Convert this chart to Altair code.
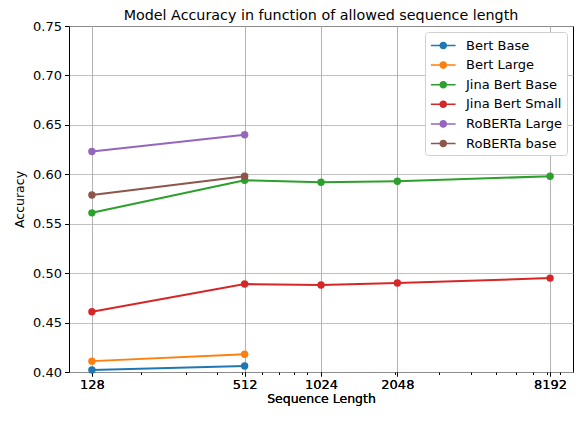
import altair as alt
import pandas as pd

models = ["Bert Base", "Bert Large", "Jina Bert Base", "Jina Bert Small", "RoBERTa Large", "RoBERTa base"]
colors = ["#1f77b4", "#ff7f0e", "#2ca02c", "#d62728", "#9467bd", "#8c564b"]

bert_base_len = [128, 512]
bert_base_acc = [0.402, 0.406]
bert_large_len = [128, 512]
bert_large_acc = [0.411, 0.418]
jina_base_len = [128, 512, 1024, 2048, 8192]
jina_base_acc = [0.561, 0.594, 0.592, 0.593, 0.598]
jina_small_len = [128, 512, 1024, 2048, 8192]
jina_small_acc = [0.461, 0.489, 0.488, 0.490, 0.495]
roberta_large_len = [128, 512]
roberta_large_acc = [0.623, 0.640]
roberta_base_len = [128, 512]
roberta_base_acc = [0.579, 0.598]

x_ticks = [128, 512, 1024, 2048, 8192]
x_minor = [200, 300, 400, 500, 600, 700, 800, 900, 2000, 3000, 4000, 5000, 6000, 7000, 8000, 9000]
y_ticks = [0.40, 0.45, 0.50, 0.55, 0.60, 0.65, 0.70, 0.75]

series = [
    (models[0], bert_base_len, bert_base_acc),
    (models[1], bert_large_len, bert_large_acc),
    (models[2], jina_base_len, jina_base_acc),
    (models[3], jina_small_len, jina_small_acc),
    (models[4], roberta_large_len, roberta_large_acc),
    (models[5], roberta_base_len, roberta_base_acc),
]
rows = []
for name, lens, accs in series:
    for l, a in zip(lens, accs):
        rows.append({"model": name, "length": l, "accuracy": a})
df = pd.DataFrame(rows)

FONT = "DejaVu Sans"
FS = 13
xscale = alt.Scale(type="log", base=2, domain=[2 ** 6.7, 2 ** 13.3], nice=False)
yscale = alt.Scale(domain=[0.40, 0.75], nice=False, zero=False)
cscale = alt.Scale(domain=models, range=colors)

sym = ("M-0.8,-0.08 L1.8,-0.08 L1.8,0.08 L-0.8,0.08 Z "
       "M0.9,0 A0.4,0.4 0 1,1 0.1,0 A0.4,0.4 0 1,1 0.9,0 Z")

xaxis = alt.Axis(values=x_ticks, format="d", title="Sequence Length", grid=True, orient="bottom",
                 gridColor="#b0b0b0", gridWidth=0.8, domain=False, tickColor="black",
                 tickSize=4, labelPadding=2, labelFontSize=FS, titleFontSize=12.5,
                 labelColor="black", titleColor="black", titleFontWeight="normal",
                 titlePadding=1, labelFont=FONT, titleFont=FONT, labelFlush=False)
yaxis = alt.Axis(values=y_ticks, format=".2f", title="Accuracy", grid=True, orient="left",
                 gridColor="#b0b0b0", gridWidth=0.8, domain=False, tickColor="black",
                 tickSize=4.5, labelPadding=3, labelFontSize=FS, titleFontSize=12.5,
                 labelColor="black", titleColor="black", titleFontWeight="normal",
                 titlePadding=6, labelFont=FONT, titleFont=FONT)

legend = alt.Legend(title=None, orient="top-right", offset=6, symbolType=sym, symbolSize=361,
                    symbolStrokeWidth=0, labelFontSize=FS, labelFont=FONT, labelColor="black",
                    fillColor="white", strokeColor="#d0d0d0", cornerRadius=3, padding=4,
                    rowPadding=2.6, labelOffset=18)

points = alt.Chart(df).mark_point(filled=True, size=55, opacity=1).encode(
    x=alt.X("length:Q", scale=xscale, axis=xaxis),
    y=alt.Y("accuracy:Q", scale=yscale, axis=yaxis),
    color=alt.Color("model:N", scale=cscale, legend=legend),
)
lines = alt.Chart(df).mark_line(strokeWidth=2).encode(
    x=alt.X("length:Q", scale=xscale, axis=xaxis),
    y=alt.Y("accuracy:Q", scale=yscale, axis=yaxis),
    color=alt.Color("model:N", scale=cscale, legend=legend),
)
minor = alt.Chart(df).mark_point(opacity=0).encode(
    x=alt.X("length:Q", scale=xscale,
            axis=alt.Axis(values=x_minor, labels=False, grid=False, domain=False, ticks=True,
                          tickSize=2.5, tickColor="black", title=None, orient="bottom")),
    y=alt.Y("accuracy:Q", scale=yscale, axis=yaxis),
)

chart = alt.layer(lines, points, minor).resolve_axis(x="independent").properties(
    width=504, height=346,
    title=alt.Title("Model Accuracy in function of allowed sequence length", font=FONT,
                    fontSize=14.3, fontWeight="normal", color="black", offset=1, dy=4,
                    anchor="middle"),
    autosize=alt.AutoSizeParams(type="none"),
    padding={"left": 61, "top": 18, "right": 1, "bottom": 37},
).configure_view(stroke="black", strokeWidth=1)

chart.save("out.html", embed_options={"renderer": "svg", "actions": False})
